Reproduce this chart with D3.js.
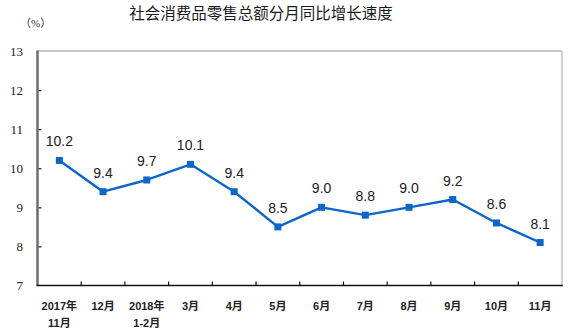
<!DOCTYPE html>
<html>
<head>
<meta charset="utf-8">
<script src="https://cdn.jsdelivr.net/npm/d3@7"></script>
<style>
  html, body { margin: 0; padding: 0; background: #fff; }
  svg { display: block; }
</style>
</head>
<body>
<svg id="chart" width="580" height="332"></svg>
<script>
// Monthly year-on-year growth of total retail sales of consumer goods (%)
const months = ["2017年\n11月", "12月", "2018年\n1-2月", "3月", "4月", "5月", "6月", "7月", "8月", "9月", "10月", "11月"];
const growth = [10.2, 9.4, 9.7, 10.1, 9.4, 8.5, 9.0, 8.8, 9.0, 9.2, 8.6, 8.1];
const yTicks = [7, 8, 9, 10, 11, 12, 13];
const titleText = "社会消费品零售总额分月同比增长速度";
const unitText = "（%）";

const W = 580, H = 332;
const plot = { left: 37.5, right: 562, top: 51, bottom: 285.5 };
const svg = d3.select("#chart");

const x = d3.scaleBand().domain(months).range([plot.left, plot.right]).padding(0);
const y = d3.scaleLinear().domain([7, 13]).range([plot.bottom, plot.top]);

const cjk = "'Liberation Sans', Arial, 'Noto Sans CJK SC', sans-serif";

// Title
svg.append("text")
  .attr("x", 261).attr("y", 19)
  .attr("text-anchor", "middle")
  .attr("font-family", "'Noto Sans CJK SC', sans-serif")
  .attr("font-size", 15.5)
  .attr("fill", "#1a1a1a")
  .text(titleText);

// Unit label
svg.append("text")
  .attr("x", 20).attr("y", 27)
  .attr("font-family", "'Liberation Serif', 'Noto Sans CJK SC', serif")
  .attr("font-size", 11)
  .attr("fill", "#333")
  .text(unitText);

// Frame: light top and right edges
svg.append("line")
  .attr("x1", plot.left).attr("x2", plot.right)
  .attr("y1", plot.top).attr("y2", plot.top)
  .attr("stroke", "#b4b4b4").attr("stroke-width", 1.5);
svg.append("line")
  .attr("x1", plot.right).attr("x2", plot.right)
  .attr("y1", plot.top).attr("y2", plot.bottom)
  .attr("stroke", "#c0c0c0").attr("stroke-width", 1.5);

// Y axis with inward ticks
const yAxis = d3.axisRight(y).tickValues(yTicks).tickSize(4).tickFormat("");
const gy = svg.append("g").attr("transform", `translate(${plot.left},0)`).call(yAxis);
gy.select(".domain").remove();
gy.selectAll(".tick line").attr("stroke", "#222").attr("stroke-width", 1.2);
gy.selectAll(".tick").filter(d => d === 7 || d === 13).select("line").remove();
svg.append("line")
  .attr("x1", plot.left).attr("x2", plot.left)
  .attr("y1", plot.top - 0.5).attr("y2", plot.bottom)
  .attr("stroke", "#6e6e6e").attr("stroke-width", 2.5);

// Y tick labels
svg.append("g").selectAll("text")
  .data(yTicks)
  .join("text")
  .attr("x", 23)
  .attr("y", d => y(d) + 4.5)
  .attr("text-anchor", "end")
  .attr("font-family", "'Liberation Serif', 'Times New Roman', serif")
  .attr("font-size", 13)
  .attr("fill", "#222")
  .text(d => d);

// X axis: ticks at band boundaries, pointing up into the plot
const boundaries = months.slice(1).map(m => x(m));
svg.append("g").selectAll("line")
  .data(boundaries)
  .join("line")
  .attr("x1", d => d).attr("x2", d => d)
  .attr("y1", plot.bottom).attr("y2", plot.bottom - 4)
  .attr("stroke", "#111").attr("stroke-width", 1.2);
svg.append("line")
  .attr("x1", plot.left - 1).attr("x2", plot.right + 0.75)
  .attr("y1", plot.bottom).attr("y2", plot.bottom)
  .attr("stroke", "#111").attr("stroke-width", 1.6);

// X labels (may span two lines)
const xl = svg.append("g").selectAll("text")
  .data(months)
  .join("text")
  .attr("x", d => x(d) + x.bandwidth() / 2)
  .attr("y", 309.5)
  .attr("text-anchor", "middle")
  .attr("font-family", cjk)
  .attr("font-size", 11)
  .attr("font-weight", "bold")
  .attr("fill", "#222");
xl.each(function(d) {
  const lines = d.split("\n");
  d3.select(this).selectAll("tspan")
    .data(lines)
    .join("tspan")
    .attr("x", x(d) + x.bandwidth() / 2)
    .attr("dy", (l, i) => i === 0 ? 0 : 17)
    .text(l => l);
});

// Series line
const cx = (d, i) => x(months[i]) + x.bandwidth() / 2;
const line = d3.line().x((d, i) => cx(d, i)).y(d => y(d));
svg.append("path")
  .datum(growth)
  .attr("d", line)
  .attr("fill", "none")
  .attr("stroke", "#0a66c8")
  .attr("stroke-width", 2.4)
  .attr("stroke-linejoin", "round");

// Square markers
svg.append("g").selectAll("rect")
  .data(growth)
  .join("rect")
  .attr("x", (d, i) => cx(d, i) - 3.5)
  .attr("y", d => y(d) - 3.5)
  .attr("width", 7).attr("height", 7)
  .attr("fill", "#0a66c8");

// Value labels
svg.append("g").selectAll("text")
  .data(growth)
  .join("text")
  .attr("x", (d, i) => cx(d, i))
  .attr("y", d => y(d) - 14)
  .attr("text-anchor", "middle")
  .attr("font-family", "'Liberation Sans', Arial, sans-serif")
  .attr("font-size", 14)
  .attr("fill", "#222")
  .text(d => d.toFixed(1));
</script>
</body>
</html>
